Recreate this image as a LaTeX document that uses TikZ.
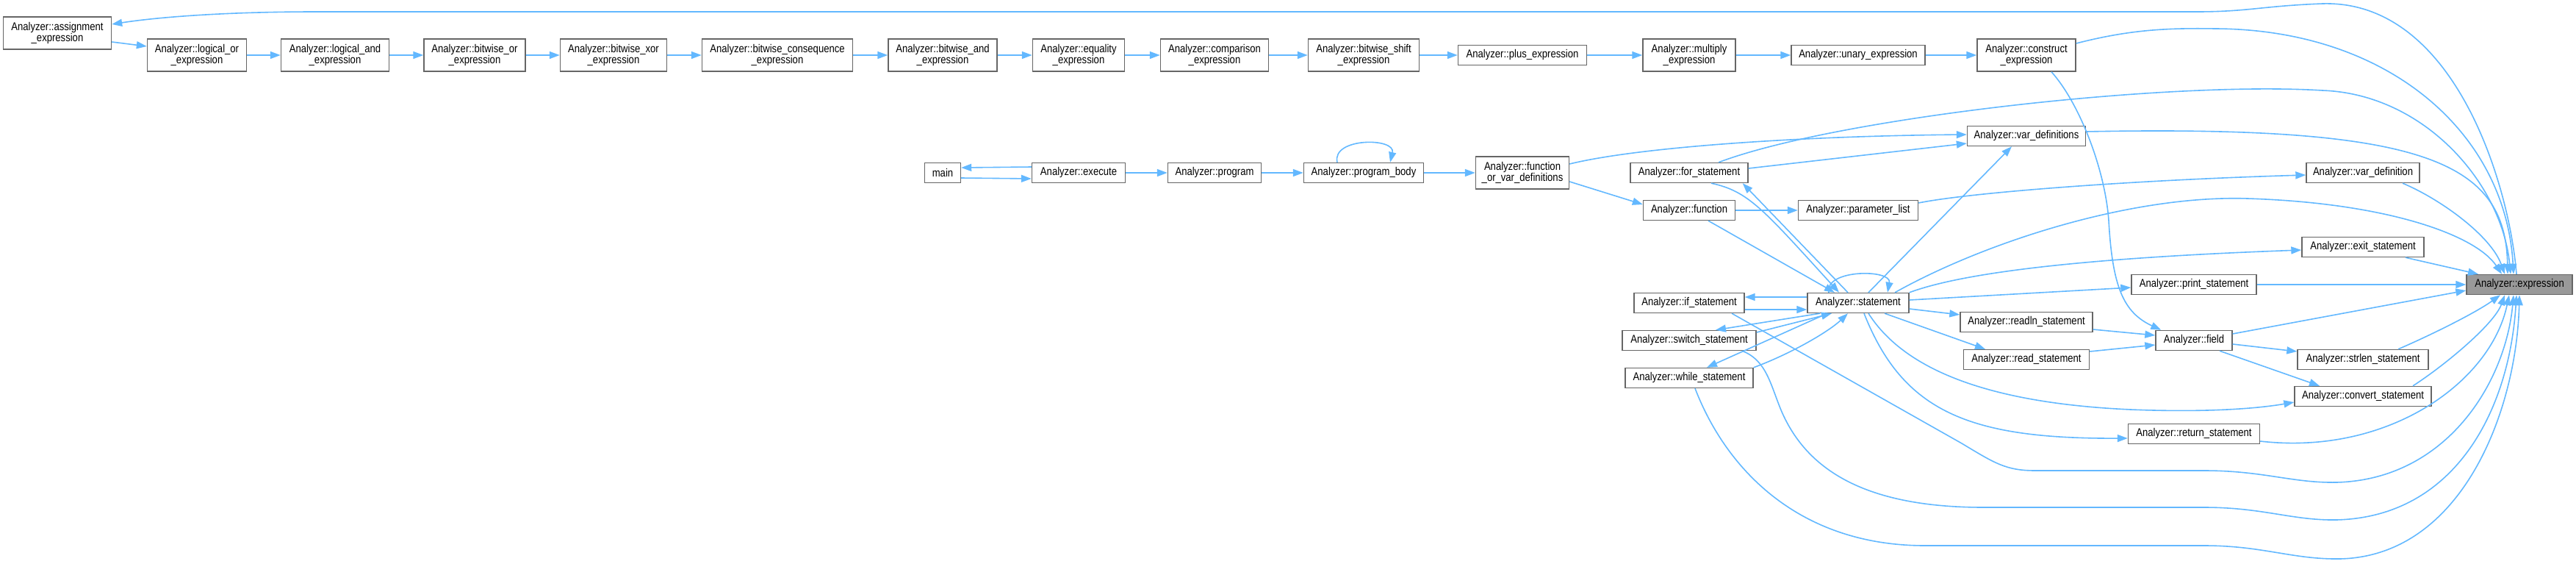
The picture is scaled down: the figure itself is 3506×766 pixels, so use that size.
\documentclass[tikz,border=0pt]{standalone}
\usepackage{fontspec}
\setmainfont[FakeStretch=0.85]{Liberation Sans}
\usepackage{xcolor}
\usepackage{tikz}
\usetikzlibrary{arrows.meta}
\definecolor{edgeblue}{HTML}{63B8FF}
\definecolor{boxline}{HTML}{666666}
\definecolor{rootfill}{HTML}{999999}
\tikzset{
  fnbox/.style={
    draw=boxline,
    line width=0.7pt,
    fill=white,
    align=center,
    font=\fontsize{7.7}{7.9}\selectfont,
    inner sep=0pt,
    minimum height=13.5pt
  },
  twoline/.style={minimum height=22pt},
  rootbox/.style={fill=rootfill},
  calledge/.style={draw=edgeblue, line width=0.8pt, -{Triangle[length=7pt,width=5pt]}}
}

\begin{document}
\begin{tikzpicture}[x=0.5pt,y=-0.5pt]
\useasboundingbox (0,0) rectangle (3506,766);

% expression chain
\node[fnbox, twoline, minimum width=73.5pt] (asg) at (78,45) {Analyzer::assignment\\\_expression};
\node[fnbox, twoline, minimum width=67.5pt] (lor) at (268,75) {Analyzer::logical\_or\\\_expression};
\node[fnbox, twoline, minimum width=73.5pt] (land) at (456,75) {Analyzer::logical\_and\\\_expression};
\node[fnbox, twoline, minimum width=69pt] (bor) at (646,75) {Analyzer::bitwise\_or\\\_expression};
\node[fnbox, twoline, minimum width=72.5pt] (bxor) at (835,75) {Analyzer::bitwise\_xor\\\_expression};
\node[fnbox, twoline, minimum width=102.5pt] (bcons) at (1058,75) {Analyzer::bitwise\_consequence\\\_expression};
\node[fnbox, twoline, minimum width=74pt] (band) at (1283,75) {Analyzer::bitwise\_and\\\_expression};
\node[fnbox, twoline, minimum width=62.5pt] (eq) at (1468,75) {Analyzer::equality\\\_expression};
\node[fnbox, twoline, minimum width=73.5pt] (cmp) at (1653,75) {Analyzer::comparison\\\_expression};
\node[fnbox, twoline, minimum width=75.5pt] (bsh) at (1856,75) {Analyzer::bitwise\_shift\\\_expression};
\node[fnbox, minimum width=87.5pt] (plus) at (2072,75) {Analyzer::plus\_expression};
\node[fnbox, twoline, minimum width=63pt] (mul) at (2299,75) {Analyzer::multiply\\\_expression};
\node[fnbox, minimum width=91pt] (unary) at (2529,75) {Analyzer::unary\_expression};
\node[fnbox, twoline, minimum width=67pt] (constr) at (2758,75) {Analyzer::construct\\\_expression};

% program
\node[fnbox, minimum width=24.5pt] (main) at (1283,235) {main};
\node[fnbox, minimum width=63.5pt] (exec) at (1468,235) {Analyzer::execute};
\node[fnbox, minimum width=63.5pt] (prog) at (1653,235) {Analyzer::program};
\node[fnbox, minimum width=81.5pt] (pbody) at (1856,235) {Analyzer::program\_body};
\node[fnbox, twoline, minimum width=63.5pt] (fovd) at (2072,235) {Analyzer::function\\\_or\_var\_definitions};

% statements
\node[fnbox, minimum width=80.5pt] (vdefs) at (2758,185) {Analyzer::var\_definitions};
\node[fnbox, minimum width=80pt] (for) at (2299,235) {Analyzer::for\_statement};
\node[fnbox, minimum width=62.5pt] (func) at (2299,286) {Analyzer::function};
\node[fnbox, minimum width=81.5pt] (plist) at (2529,286) {Analyzer::parameter\_list};
\node[fnbox, minimum width=77pt] (vdef) at (3216,235) {Analyzer::var\_definition};
\node[fnbox, minimum width=83pt] (exit) at (3216,336) {Analyzer::exit\_statement};
\node[fnbox, minimum width=85pt] (print) at (2986,387) {Analyzer::print\_statement};
\node[fnbox, rootbox, minimum width=72pt] (expr) at (3429,387) {Analyzer::expression};
\node[fnbox, minimum width=75pt] (if) at (2299,412) {Analyzer::if\_statement};
\node[fnbox, minimum width=69pt] (stmt) at (2529,412) {Analyzer::statement};
\node[fnbox, minimum width=91pt] (switch) at (2299,463) {Analyzer::switch\_statement};
\node[fnbox, minimum width=87pt] (while) at (2299,514) {Analyzer::while\_statement};
\node[fnbox, minimum width=90pt] (readln) at (2758,438) {Analyzer::readln\_statement};
\node[fnbox, minimum width=85.5pt] (read) at (2758,489) {Analyzer::read\_statement};
\node[fnbox, minimum width=52pt] (field) at (2986,463) {Analyzer::field};
\node[fnbox, minimum width=89pt] (strlen) at (3216,489) {Analyzer::strlen\_statement};
\node[fnbox, minimum width=93pt] (conv) at (3216,539) {Analyzer::convert\_statement};
\node[fnbox, minimum width=89.5pt] (ret) at (2986,590) {Analyzer::return\_statement};

% chain edges
\draw[calledge] ([yshift=-6pt]asg.east) -- ([yshift=6pt]lor.west);
\foreach \a/\b in {lor/land,land/bor,bor/bxor,bxor/bcons,bcons/band,band/eq,eq/cmp,cmp/bsh,bsh/plus,plus/mul,mul/unary,unary/constr,exec/prog,prog/pbody,pbody/fovd,func/plist}
  \draw[calledge] (\a) -- (\b);

\draw[calledge] ([yshift=4pt]exec.west) -- ([yshift=3.5pt]main.east);
\draw[calledge] ([yshift=-3.5pt]main.east) -- ([yshift=-4pt]exec.west);
\draw[calledge] ([xshift=-18pt]pbody.north) .. controls +(-8,-34) and +(8,-34) .. ([xshift=18pt]pbody.north);

\draw[calledge] ([yshift=6pt]fovd.east) .. controls (2230,200) and (2450,185) .. ([yshift=1pt]vdefs.west);
\draw[calledge] ([yshift=-6pt]fovd.east) -- ([yshift=4pt]func.west);
\draw[calledge] ([yshift=3pt]for.east) -- ([yshift=-5pt]vdefs.west);
\draw[calledge] ([yshift=5pt]plist.east) .. controls (2680,262) and (2900,245) .. ([yshift=-1.5pt]vdef.west);

% statement edges
\draw[calledge] ([xshift=15pt]for.south) .. controls (2380,260) and (2400,285) .. ([xshift=-13pt]stmt.north);
\draw[calledge] ([xshift=-7pt]stmt.north) -- ([xshift=-4pt]for.south east);
\draw[calledge] ([xshift=13pt]func.south) -- ([xshift=-16pt]stmt.north);
\draw[calledge] ([xshift=7pt]stmt.north) -- ([xshift=-10pt]vdefs.south);
\draw[calledge] ([xshift=-20pt]stmt.north) .. controls +(-6,-32) and +(6,-32) .. ([xshift=20pt]stmt.north);
\draw[calledge] ([yshift=4pt]stmt.west) -- ([yshift=4pt]if.east);
\draw[calledge] ([yshift=-4.5pt]if.east) -- ([yshift=-4.5pt]stmt.west);
\draw[calledge] ([xshift=-26pt]stmt.south) -- ([xshift=18pt]switch.north);
\draw[calledge] ([yshift=5.5pt]switch.east) -- ([xshift=-18pt]stmt.south);
\draw[calledge] ([xshift=-21pt]stmt.south) -- ([xshift=12pt]while.north);
\draw[calledge] (while.north east) .. controls (2440,480) and (2490,450) .. ([xshift=-7pt]stmt.south);
\draw[calledge] (stmt.north east) .. controls (2660,375) and (2800,352) .. ([yshift=-2pt]exit.west);
\draw[calledge] ([yshift=2pt]stmt.east) -- ([yshift=-2pt]print.west);
\draw[calledge] ([yshift=-4pt]stmt.east) -- ([yshift=5pt]readln.west);
\draw[calledge] ([xshift=18pt]stmt.south) -- ([xshift=-28pt]read.north);
\draw[calledge] ([xshift=7pt]stmt.south) .. controls (2590,500) and (2700,548) .. (2900,557) .. controls (3000,561) and (3070,556) .. ([yshift=-4pt]conv.west);
\draw[calledge] ([xshift=4pt]stmt.south) .. controls (2590,560) and (2680,597) .. ([yshift=-3pt]ret.west);

% field edges
\draw[calledge] ([yshift=-5pt]readln.east) -- ([yshift=3.5pt]field.west);
\draw[calledge] ([yshift=5.5pt]read.east) -- ([yshift=-3pt]field.west);
\draw[calledge] ([xshift=17pt]constr.south) .. controls (2830,140) and (2865,230) .. (2870,300) .. controls (2875,390) and (2890,425) .. ([xshift=4pt]field.north west);
\draw[calledge] ([yshift=-2.5pt]field.east) -- ([yshift=5.5pt]strlen.west);
\draw[calledge] ([xshift=17.5pt]field.south) -- ([xshift=-29.5pt]conv.north);

% into expression
\draw[calledge] ([xshift=-2pt]expr.north) .. controls (3415,250) and (3340,0) .. (3161,5) .. controls (3080,8) and (3060,16) .. (2990,16) -- (430,16) .. controls (300,16) and (210,24) .. ([yshift=6pt]asg.east);
\draw[calledge] ([yshift=8pt]constr.east) .. controls (2900,40) and (2950,38) .. (3015,39) .. controls (3250,40) and (3410,180) .. ([xshift=-4pt]expr.north);
\draw[calledge] ([xshift=20pt]for.north) .. controls (2500,160) and (2950,110) .. (3161,123) .. controls (3300,128) and (3405,250) .. ([xshift=-6pt]expr.north);
\draw[calledge] ([yshift=3pt]vdefs.east) .. controls (3300,170) and (3410,220) .. ([xshift=-8pt]expr.north);
\draw[calledge] ([xshift=27pt]vdef.south) .. controls (3320,270) and (3390,320) .. ([xshift=-10pt]expr.north);
\draw[calledge] ([xshift=25pt]stmt.north) .. controls (2700,330) and (2900,265) .. (3059,270) .. controls (3250,276) and (3370,320) .. ([xshift=-12pt]expr.north);
\draw[calledge] ([xshift=29pt]exit.south) -- ([xshift=-28pt]expr.north);
\draw[calledge] (print) -- (expr);
\draw[calledge] ([yshift=4.5pt]field.east) -- ([yshift=-4pt]expr.west);
\draw[calledge] ([xshift=24pt]strlen.north) .. controls (3310,455) and (3370,425) .. ([xshift=-13pt]expr.south);
\draw[calledge] ([xshift=34pt]conv.north) .. controls (3330,495) and (3395,440) .. ([xshift=-10pt]expr.south);
\draw[calledge] ([yshift=-5pt]ret.east) .. controls (3250,620) and (3390,520) .. ([xshift=-7pt]expr.south);
\draw[calledge] ([xshift=29pt]if.south) -- (2670,603) .. controls (2715,630) and (2730,640) .. (2770,640) -- (3000,640) .. controls (3080,640) and (3120,657) .. (3180,656) .. controls (3330,652) and (3410,520) .. ([xshift=-4pt]expr.south);
\draw[calledge] ([xshift=36pt]switch.south) .. controls (2405,490) and (2410,525) .. (2425,560) .. controls (2460,640) and (2540,690) .. (2700,690) -- (3000,690) .. controls (3080,690) and (3120,708) .. (3180,707) .. controls (3340,703) and (3415,560) .. ([xshift=-2pt]expr.south);
\draw[calledge] ([xshift=4pt]while.south) .. controls (2350,640) and (2450,742) .. (2620,742) -- (3000,742) .. controls (3080,742) and (3120,761) .. (3185,760) .. controls (3350,756) and (3425,560) .. (expr.south);
\end{tikzpicture}
\end{document}
